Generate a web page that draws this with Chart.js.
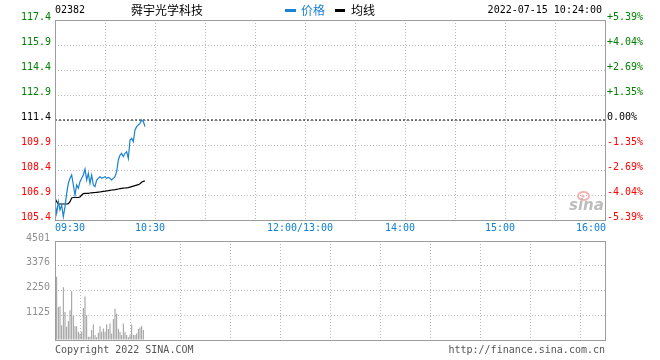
<!DOCTYPE html>
<html lang="zh">
<head>
  <meta charset="UTF-8" />
  <title>02382 舜宇光学科技</title>
  <script src="https://cdn.jsdelivr.net/npm/chart.js"></script>
  <style>
    body { margin: 0; background: #fff; }
    .wrap { position: relative; width: 660px; height: 360px; }
    #priceChart { position: absolute; left: 0; top: 0; }
    #volChart { position: absolute; left: 0; top: 230px; }
  </style>
</head>
<body>
  <div class="wrap">
    <canvas id="priceChart" width="660" height="240"></canvas>
    <canvas id="volChart" width="660" height="130"></canvas>
  </div>

  <script>
    const stockCode = "02382";
    const stockName = "舜宇光学科技";
    const stamp = "2022-07-15 10:24:00";
    const prevClose = 111.4;

    const priceTicks = [117.4, 115.9, 114.4, 112.9, 111.4, 109.9, 108.4, 106.9, 105.4];
    const pctLabels = ["+5.39%", "+4.04%", "+2.69%", "+1.35%", "0.00%", "-1.35%", "-2.69%", "-4.04%", "-5.39%"];
    const volTicks = [4501, 3376, 2250, 1125, 0];
    const gridMinutes = [0, 30, 60, 90, 120, 150, 180, 210, 240, 270, 300, 330];
    const timeLabels = ["09:30", "10:30", "12:00/13:00", "14:00", "15:00", "16:00"];
    const timeLabelMinutes = [0, 60, 150, 210, 270, 330];

    // one value per minute from 09:30
    const prices = [
      106.4, 105.8, 106.5, 106.0, 106.3, 105.6, 106.2, 107.0, 107.6, 107.9,
      108.1, 107.5, 106.9, 107.5, 107.3, 107.7, 107.9, 108.1, 108.45, 107.8,
      108.2, 107.6, 108.1, 107.5, 107.4, 107.8, 107.9, 108.0, 107.9, 107.95,
      108.0, 107.9, 107.95, 107.9, 107.8, 107.9, 108.0, 108.3, 109.0, 109.3,
      109.4, 109.2, 109.4, 109.5, 109.1, 110.2, 110.3, 110.1, 110.8, 111.0,
      111.1, 111.2, 111.4, 111.3, 111.0
    ];
    const avgPrices = [
      106.7, 106.5, 106.36, 106.36, 106.36, 106.36, 106.36, 106.36, 106.38, 106.5,
      106.72, 106.75, 106.75, 106.75, 106.76, 106.78, 106.9, 106.98, 107.0, 107.0,
      107.0, 107.02, 107.03, 107.04, 107.05, 107.06, 107.07, 107.08, 107.1, 107.12,
      107.13, 107.15, 107.16, 107.18, 107.2, 107.21, 107.22, 107.24, 107.26, 107.28,
      107.3, 107.31, 107.32, 107.33, 107.34, 107.37, 107.4, 107.43, 107.46, 107.49,
      107.52, 107.58, 107.66, 107.72, 107.74
    ];
    // volume bars start at the second minute
    const volumes = [
      2880, 1500, 1540, 675, 2400, 1270, 600, 855, 1350, 2220,
      1095, 630, 630, 375, 290, 375, 1455, 1980, 1125, 150,
      150, 450, 720, 225, 120, 330, 630, 375, 525, 375,
      720, 495, 750, 300, 960, 1425, 1200, 510, 375, 225,
      750, 375, 225, 120, 225, 700, 225, 225, 300, 495,
      570, 640, 450
    ];

    const MONO = "'DejaVu Sans Mono', 'Liberation Mono', monospace";
    const CJK = "'Noto Sans CJK SC', sans-serif";
    const BLUE = "#1a82d2";
    const GRID = "#b8b8b8";
    const FRAME = "#9c9c9c";

    Chart.defaults.font.family = MONO;
    Chart.defaults.font.size = 10;

    function priceColor(v) {
      if (Math.abs(v - prevClose) < 0.001) return "#000";
      return v > prevClose ? "#008000" : "#ff0000";
    }

    function timeAxis() {
      return {
        type: "linear",
        min: 0,
        max: 330,
        offset: false,
        afterBuildTicks: s => { s.ticks = gridMinutes.map(v => ({ value: v })); },
        ticks: { display: false },
        grid: { color: GRID, drawTicks: false },
        border: { display: false, dash: [1, 2] },
        afterFit: s => { s.height = 20; }
      };
    }

    const priceDecor = {
      id: "priceDecor",
      afterDraw(chart) {
        const { ctx, chartArea: a } = chart;
        const x = chart.scales.x;
        ctx.save();
        ctx.strokeStyle = FRAME;
        ctx.lineWidth = 1;
        ctx.strokeRect(a.left + 0.5, a.top + 0.5, a.right - a.left, a.bottom - a.top);

        // header
        ctx.textBaseline = "middle";
        ctx.font = "10px " + MONO;
        ctx.fillStyle = "#000";
        ctx.textAlign = "left";
        ctx.fillText(stockCode, 55, 10);
        ctx.font = "12px " + CJK;
        ctx.fillText(stockName, 131, 10);
        ctx.fillStyle = BLUE;
        ctx.fillRect(285, 9, 11, 3);
        ctx.fillText("价格", 301, 10);
        ctx.fillStyle = "#000";
        ctx.fillRect(335, 9, 10, 3);
        ctx.fillText("均线", 351, 10);
        ctx.font = "10px " + MONO;
        ctx.textAlign = "right";
        ctx.fillText(stamp, 602, 10);

        // time labels under the price panel
        ctx.fillStyle = "#1080d0";
        timeLabels.forEach((t, i) => {
          const px = x.getPixelForValue(timeLabelMinutes[i]);
          if (i === 0) { ctx.textAlign = "left"; ctx.fillText(t, px, a.bottom + 8); }
          else if (i === timeLabels.length - 1) { ctx.textAlign = "right"; ctx.fillText(t, px + 1, a.bottom + 8); }
          else { ctx.textAlign = "center"; ctx.fillText(t, px - 5, a.bottom + 8); }
        });

        // sina watermark
        ctx.strokeStyle = "#f2b4b4";
        ctx.lineWidth = 2;
        ctx.beginPath();
        ctx.ellipse(583.5, 196, 5.5, 4, 0, 0, Math.PI * 2);
        ctx.stroke();
        ctx.fillStyle = "#f2b4b4";
        ctx.beginPath();
        ctx.arc(583, 196, 1.6, 0, Math.PI * 2);
        ctx.fill();
        ctx.fillStyle = "#bdbdbd";
        ctx.font = "italic bold 15px 'DejaVu Sans', sans-serif";
        ctx.textAlign = "left";
        ctx.fillText("sina", 569, 206);
        ctx.restore();
      }
    };

    new Chart(document.getElementById("priceChart"), {
      type: "line",
      data: {
        datasets: [
          {
            label: "价格",
            data: prices.map((p, i) => ({ x: i, y: p })),
            borderColor: BLUE,
            borderWidth: 1.2,
            pointRadius: 0,
            tension: 0
          },
          {
            label: "均线",
            data: avgPrices.map((p, i) => ({ x: i, y: p })),
            borderColor: "#000",
            borderWidth: 1.2,
            pointRadius: 0,
            tension: 0
          },
          {
            label: "昨收",
            data: [{ x: 0, y: prevClose }, { x: 330, y: prevClose }],
            borderColor: "#000",
            borderWidth: 1,
            borderDash: [2, 2],
            pointRadius: 0
          }
        ]
      },
      options: {
        responsive: false,
        animation: false,
        devicePixelRatio: 1,
        layout: { padding: { top: 20, left: 0, right: 0, bottom: 0 } },
        plugins: { legend: { display: false }, tooltip: { enabled: false } },
        scales: {
          x: timeAxis(),
          y: {
            position: "left",
            min: 105.4,
            max: 117.4,
            afterBuildTicks: s => { s.ticks = priceTicks.map(v => ({ value: v })); },
            ticks: {
              padding: 4,
              labelOffset: -3,
              color: ctx => priceColor(ctx.tick.value),
              callback: v => v.toFixed(1)
            },
            grid: { color: GRID, drawTicks: false },
            border: { display: false, dash: [1, 2] },
            afterFit: s => { s.width = 55; }
          },
          y2: {
            position: "right",
            min: 105.4,
            max: 117.4,
            afterBuildTicks: s => { s.ticks = priceTicks.map(v => ({ value: v })); },
            ticks: {
              padding: 2,
              labelOffset: -3,
              color: ctx => priceColor(ctx.tick.value),
              callback: (v, i) => pctLabels[i]
            },
            grid: { display: false, drawTicks: false },
            border: { display: false },
            afterFit: s => { s.width = 55; }
          }
        }
      },
      plugins: [priceDecor]
    });

    const volDecor = {
      id: "volDecor",
      afterDraw(chart) {
        const { ctx, chartArea: a } = chart;
        ctx.save();
        ctx.strokeStyle = FRAME;
        ctx.lineWidth = 1;
        ctx.strokeRect(a.left + 0.5, a.top + 0.5, a.right - a.left, a.bottom - a.top);
        ctx.font = "10px " + MONO;
        ctx.fillStyle = "#555";
        ctx.textBaseline = "middle";
        ctx.textAlign = "left";
        ctx.fillText("Copyright 2022 SINA.COM", 55, a.bottom + 10);
        ctx.textAlign = "right";
        ctx.fillText("http://finance.sina.com.cn", 605, a.bottom + 10);
        ctx.restore();
      }
    };

    new Chart(document.getElementById("volChart"), {
      type: "bar",
      data: {
        datasets: [{
          label: "成交量",
          data: volumes.map((v, i) => ({ x: i + 1, y: v })),
          backgroundColor: "#9a9a9a",
          barThickness: 1,
          inflateAmount: 0,
          grouped: false
        }]
      },
      options: {
        responsive: false,
        animation: false,
        devicePixelRatio: 1,
        layout: { padding: { top: 10, left: 0, right: 55, bottom: 0 } },
        plugins: { legend: { display: false }, tooltip: { enabled: false } },
        scales: {
          x: timeAxis(),
          y: {
            position: "left",
            min: 0,
            max: 4501,
            afterBuildTicks: s => { s.ticks = volTicks.map(v => ({ value: v })); },
            ticks: {
              padding: 5,
              labelOffset: -3,
              color: "#909090",
              callback: v => (v === 0 ? "" : String(v))
            },
            grid: { color: GRID, drawTicks: false },
            border: { display: false, dash: [1, 2] },
            afterFit: s => { s.width = 55; }
          }
        }
      },
      plugins: [volDecor]
    });
  </script>
</body>
</html>
